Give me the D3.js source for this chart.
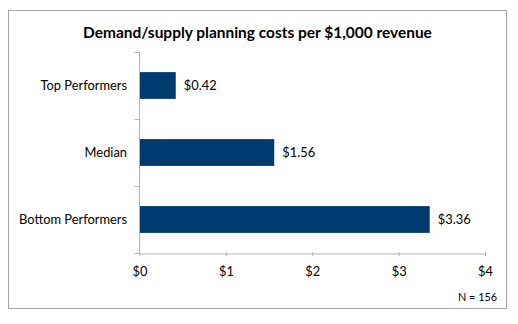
<!DOCTYPE html>
<html><head><meta charset="utf-8">
<script src="https://cdn.jsdelivr.net/npm/d3@7"></script>
<style>body{margin:0;background:#fff}svg{display:block}text{font-family:Lato,"Open Sans",sans-serif}</style>
</head><body><svg id="c" width="518" height="324"></svg>
<script>
const categories = ["Top Performers", "Median", "Bottom Performers"];
const values = [0.42, 1.56, 3.36];
const valueLabels = ["$0.42", "$1.56", "$3.36"];
const xTicks = [0, 1, 2, 3, 4];
const xTickLabels = ["$0", "$1", "$2", "$3", "$4"];
const title = "Demand/supply planning costs per $1,000 revenue";
const note = "N = 156";

const svg = d3.select("#c");
function fit(sel, w) {
  const n = sel.node();
  let fs = parseFloat(sel.attr("font-size"));
  const cur = n.getComputedTextLength();
  sel.attr("font-size", (fs * w / cur).toFixed(2));
}

svg.append("rect").attr("x", 8.5).attr("y", 10.5).attr("width", 498).attr("height", 298)
  .attr("fill", "#fff").attr("stroke", "#a6a6a6").attr("stroke-width", 1);

const t = svg.append("text").attr("x", 257.5).attr("y", 37.5).attr("text-anchor", "middle")
  .attr("font-weight", "bold").attr("font-size", 15).attr("fill", "#000").text(title);
fit(t, 349);

const x = d3.scaleLinear().domain([0, 4]).range([139.5, 485]);
const y = d3.scaleBand().domain(categories).range([52, 253]).paddingInner(0.6).paddingOuter(0.3);

// bars
svg.append("g").selectAll("rect").data(values).join("rect")
  .attr("x", x(0)).attr("y", (d, i) => y(categories[i]))
  .attr("width", d => x(d) - x(0)).attr("height", y.bandwidth())
  .attr("fill", "#003b6f");

// x axis
const xa = svg.append("g").attr("transform", "translate(0,253.5)")
  .call(d3.axisBottom(x).tickValues(xTicks).tickFormat((d, i) => xTickLabels[i]).tickSize(3).tickSizeOuter(0));
xa.select(".domain").attr("stroke", "#b3b3b3");
xa.selectAll(".tick line").attr("stroke", "#b3b3b3").attr("y1", -1.5).attr("y2", 2.5);
xa.selectAll(".tick text").attr("font-family", null).attr("font-size", 12).attr("fill", "#000").attr("y", 13);

// y axis
const ya = svg.append("g").attr("transform", "translate(139.5,0)");
ya.append("line").attr("x1", 0).attr("x2", 0).attr("y1", 52).attr("y2", 253.5).attr("stroke", "#b3b3b3");
ya.selectAll("line.tk").data(d3.range(4)).join("line").attr("class", "tk")
  .attr("x1", -5).attr("x2", 0)
  .attr("y1", i => 52 + i * (201 / 3) + 0.5).attr("y2", i => 52 + i * (201 / 3) + 0.5)
  .attr("stroke", "#b3b3b3");
const cl = ya.selectAll("text").data(categories).join("text")
  .attr("x", -12.5).attr("y", d => y(d) + y.bandwidth() / 2).attr("dy", "0.35em")
  .attr("text-anchor", "end").attr("font-size", 12).attr("fill", "#000").text(d => d);
fit(d3.select(cl.nodes()[2]), 108);
const fsCat = d3.select(cl.nodes()[2]).attr("font-size");
cl.attr("font-size", fsCat);
xa.selectAll(".tick text").attr("font-size", fsCat);

// value labels
svg.append("g").selectAll("text").data(values).join("text")
  .attr("x", d => x(d) + 8).attr("y", (d, i) => y(categories[i]) + y.bandwidth() / 2).attr("dy", "0.35em")
  .attr("font-size", fsCat).attr("fill", "#000").text((d, i) => valueLabels[i]);

const nt = svg.append("text").attr("x", 497).attr("y", 297).attr("dy", "0.35em").attr("text-anchor", "end")
  .attr("font-size", 11).attr("fill", "#000").text(note);
fit(nt, 39);
</script></body></html>
